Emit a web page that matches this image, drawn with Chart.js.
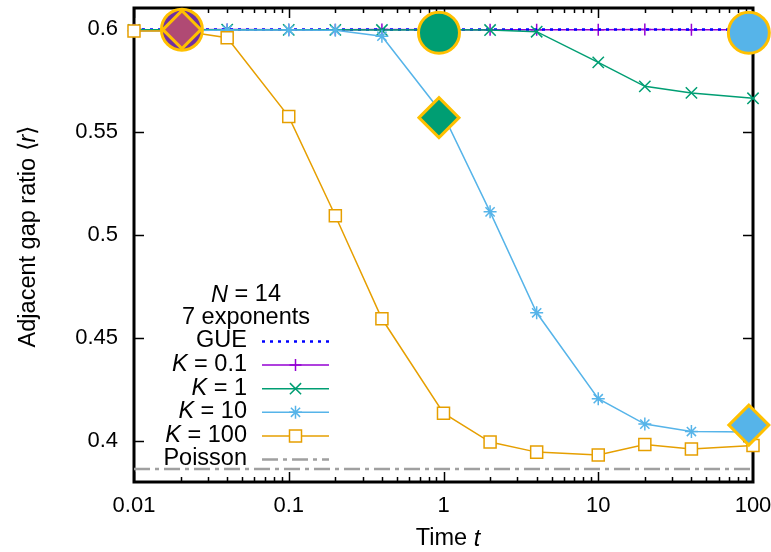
<!DOCTYPE html>
<html><head><meta charset="utf-8">
<script src="https://cdn.jsdelivr.net/npm/chart.js@4"></script>
<style>html,body{margin:0;padding:0;background:#fff}#wrap{width:771px;height:552px;position:relative}</style>
</head><body><div id="wrap"><canvas id="c" width="771" height="552"></canvas></div>
<script>
// ---- data ----
const times = [0.01, 0.02, 0.04, 0.1, 0.2, 0.4, 1, 2, 4, 10, 20, 40, 100];
const k01  = [0.5995, 0.5995, 0.5996, 0.5995, 0.5994, 0.5996, 0.5995, 0.5995, 0.5994, 0.5995, 0.5996, 0.5995, 0.5995];
const k1   = [0.5994, 0.5994, 0.5995, 0.5994, 0.5994, 0.5993, 0.5994, 0.5993, 0.5985, 0.5836, 0.5720, 0.5688, 0.5662];
const k10  = [0.5990, 0.5990, 0.5993, 0.5993, 0.5992, 0.5963, 0.5580, 0.5111, 0.4621, 0.4204, 0.4081, 0.4045, 0.4043];
const k100 = [0.5988, 0.5990, 0.5956, 0.5573, 0.5092, 0.4592, 0.4134, 0.3994, 0.3945, 0.3931, 0.3982, 0.3960, 0.3977];
const gueValue = 0.5996;
const poissonValue = 0.3863;
const circleX = [0.0204, 0.935, 94];
const circleY = [0.5995, 0.5980, 0.5980];
const diamondX = [0.0204, 0.935, 94];
const diamondY = [0.5995, 0.5568, 0.4076];
const xTicks = [0.01, 0.1, 1, 10, 100];
const xTickLabels = ['0.01', '0.1', '1', '10', '100'];
const yTicks = [0.4, 0.45, 0.5, 0.55, 0.6];
const yTickLabels = ['0.4', '0.45', '0.5', '0.55', '0.6'];

const FONT = '"Liberation Sans", Arial, Helvetica, sans-serif';
const FS = 22;   // tick labels
const FL = 23.5; // legend and axis titles
const C_PURPLE = '#9400d3', C_GREEN = '#009e73', C_SKY = '#56b4e9', C_ORANGE = '#e69f00';
const C_GUE = '#0000ff', C_POIS = '#a0a0a0', C_GOLD = '#ffc000';

const pts = (xs, ys) => xs.map((x, i) => ({x: x, y: ys[i]}));

const legendEntries = [
  {parts: [{t: 'GUE'}], color: C_GUE, dash: [3, 5], width: 2.5, marker: null},
  {parts: [{t: 'K', i: true}, {t: ' = 0.1'}], color: C_PURPLE, dash: [], width: 1.5, marker: 'cross'},
  {parts: [{t: 'K', i: true}, {t: ' = 1'}], color: C_GREEN, dash: [], width: 1.5, marker: 'crossRot'},
  {parts: [{t: 'K', i: true}, {t: ' = 10'}], color: C_SKY, dash: [], width: 1.5, marker: 'star'},
  {parts: [{t: 'K', i: true}, {t: ' = 100'}], color: C_ORANGE, dash: [], width: 1.5, marker: 'rect'},
  {parts: [{t: 'Poisson'}], color: C_POIS, dash: [16, 5, 4, 5], width: 2.5, marker: null}
];

function richWidth(ctx, parts, fs) {
  let w = 0;
  for (const p of parts) {
    ctx.font = (p.i ? 'italic ' : '') + fs + 'px ' + FONT;
    w += ctx.measureText(p.t).width;
  }
  return w;
}
function drawRich(ctx, parts, x, y, align, fs) {
  const w = richWidth(ctx, parts, fs);
  let cx = align === 'right' ? x - w : (align === 'center' ? x - w / 2 : x);
  ctx.textAlign = 'left';
  ctx.textBaseline = 'middle';
  ctx.fillStyle = '#000';
  for (const p of parts) {
    ctx.font = (p.i ? 'italic ' : '') + fs + 'px ' + FONT;
    ctx.fillText(p.t, cx, y);
    cx += ctx.measureText(p.t).width;
  }
}
function drawMarker(ctx, style, x, y, color) {
  ctx.save();
  ctx.strokeStyle = color; ctx.lineWidth = 1.5; ctx.setLineDash([]);
  ctx.beginPath();
  if (style === 'cross') {
    ctx.moveTo(x - 6, y); ctx.lineTo(x + 6, y); ctx.moveTo(x, y - 6); ctx.lineTo(x, y + 6);
  } else if (style === 'crossRot') {
    const d = 5.6;
    ctx.moveTo(x - d, y - d); ctx.lineTo(x + d, y + d); ctx.moveTo(x - d, y + d); ctx.lineTo(x + d, y - d);
  } else if (style === 'star') {
    const r = 6.5, d = r * Math.SQRT1_2;
    ctx.moveTo(x - r, y); ctx.lineTo(x + r, y); ctx.moveTo(x, y - r); ctx.lineTo(x, y + r);
    ctx.moveTo(x - d, y - d); ctx.lineTo(x + d, y + d); ctx.moveTo(x - d, y + d); ctx.lineTo(x + d, y - d);
  } else if (style === 'rect') {
    ctx.fillStyle = '#fff';
    ctx.rect(x - 6, y - 6, 12, 12); ctx.fill();
  }
  ctx.stroke();
  ctx.restore();
}

const framePlugin = {
  id: 'frame',
  beforeDatasetsDraw(chart) {
    const {ctx, chartArea: a, scales: {x, y}} = chart;
    ctx.save();
    ctx.strokeStyle = '#000';
    ctx.lineWidth = 1.5;
    ctx.beginPath();
    for (let dec = 0.01; dec < 99; dec *= 10) {
      for (let m = 1; m <= 9; m++) {
        const v = m * dec;
        const px = Math.round(x.getPixelForValue(v)) + 0.5;
        const len = m === 1 ? 10 : 5;
        ctx.moveTo(px, a.bottom); ctx.lineTo(px, a.bottom - len);
        ctx.moveTo(px, a.top); ctx.lineTo(px, a.top + len);
      }
    }
    for (const v of yTicks) {
      const py = Math.round(y.getPixelForValue(v)) + 0.5;
      ctx.moveTo(a.left, py); ctx.lineTo(a.left + 10, py);
      ctx.moveTo(a.right, py); ctx.lineTo(a.right - 10, py);
    }
    ctx.stroke();
    ctx.lineWidth = 3;
    ctx.strokeRect(a.left, a.top, a.right - a.left, a.bottom - a.top);
    ctx.restore();
  },
  afterDraw(chart) {
    const {ctx} = chart;
    ctx.save();
    drawRich(ctx, [{t: 'N', i: true}, {t: ' = 14'}], 246, 295, 'center', FL);
    drawRich(ctx, [{t: '7 exponents'}], 246, 318, 'center', FL);
    legendEntries.forEach((e, i) => {
      const yy = 341 + 23.6 * i;
      drawRich(ctx, e.parts, 247, yy, 'right', FL);
      ctx.save();
      ctx.strokeStyle = e.color; ctx.lineWidth = e.width; ctx.setLineDash(e.dash);
      ctx.beginPath(); ctx.moveTo(262, yy + 0.5); ctx.lineTo(329, yy + 0.5); ctx.stroke();
      ctx.restore();
      if (e.marker) drawMarker(ctx, e.marker, 295.5, yy + 0.5, e.color);
    });
    drawRich(ctx, [{t: 'Time '}, {t: 't', i: true}], 448, 539, 'center', FL);
    ctx.save();
    ctx.translate(28.5, 236.5);
    ctx.rotate(-Math.PI / 2);
    drawRich(ctx, [{t: 'Adjacent gap ratio \u27E8'}, {t: 'r', i: true}, {t: '\u27E9'}], 0, 0, 'center', FL);
    ctx.restore();
    ctx.restore();
  }
};

const lineDs = (label, ys, color, style, radius, order) => ({
  label: label, data: pts(times, ys), showLine: true,
  borderColor: color, borderWidth: 1.5, backgroundColor: color,
  pointStyle: style, pointRadius: radius, pointBorderWidth: 1.5,
  pointBorderColor: color, pointBackgroundColor: style === 'rect' ? '#fff' : color,
  clip: false, order: order
});

new Chart(document.getElementById('c'), {
  type: 'scatter',
  data: {
    datasets: [
      {label: 'Poisson', data: pts([0.01, 100], [poissonValue, poissonValue]), showLine: true,
       borderColor: C_POIS, borderWidth: 2.5, borderDash: [16, 5, 4, 5], pointRadius: 0, order: 7},
      lineDs('K = 0.1', k01, C_PURPLE, 'cross', 6, 6),
      {label: 'GUE', data: pts([0.01, 100], [gueValue, gueValue]), showLine: true,
       borderColor: C_GUE, borderWidth: 2.5, borderDash: [3, 5], pointRadius: 0, order: 5},
      lineDs('K = 1', k1, C_GREEN, 'crossRot', 8, 4),
      lineDs('K = 10', k10, C_SKY, 'star', 6.5, 3),
      lineDs('K = 100', k100, C_ORANGE, 'rect', 8.5, 2),
      {label: 'circles', data: pts(circleX, circleY), showLine: false, pointStyle: 'circle',
       pointRadius: 20.5, pointBorderWidth: 3, pointBorderColor: C_GOLD,
       pointBackgroundColor: ['#7030a0', C_GREEN, C_SKY], clip: false, order: 1},
      {label: 'diamonds', data: pts(diamondX, diamondY), showLine: false, pointStyle: 'rectRot',
       pointRadius: [19, 20, 20], pointBorderWidth: 3, pointBorderColor: C_GOLD,
       pointBackgroundColor: ['#b04a74', C_GREEN, C_SKY], clip: false, order: 0}
    ]
  },
  options: {
    responsive: false, animation: false, devicePixelRatio: 1,
    layout: {autoPadding: false, padding: {top: 8, right: 18, left: 0, bottom: 0}},
    plugins: {legend: {display: false}, tooltip: {enabled: false}},
    elements: {line: {tension: 0}},
    scales: {
      x: {
        type: 'logarithmic', min: 0.01, max: 100,
        grid: {display: false, drawTicks: false}, border: {display: false},
        ticks: {color: '#000', font: {family: FONT, size: FS}, padding: 11, maxRotation: 0, autoSkip: false,
                callback: (v, i) => xTickLabels[i]},
        afterBuildTicks: s => { s.ticks = xTicks.map(v => ({value: v, major: true})); },
        afterFit: s => { s.height = 70; s.paddingLeft = 0; s.paddingRight = 0; }
      },
      y: {
        type: 'linear', min: 0.38, max: 0.61,
        grid: {display: false, drawTicks: false}, border: {display: false},
        ticks: {color: '#000', font: {family: FONT, size: FS}, padding: 16, autoSkip: false,
                callback: (v, i) => yTickLabels[i]},
        afterBuildTicks: s => { s.ticks = yTicks.map(v => ({value: v})); },
        afterFit: s => { s.width = 134; s.paddingTop = 0; s.paddingBottom = 0; }
      }
    }
  },
  plugins: [framePlugin]
});
</script></body></html>
